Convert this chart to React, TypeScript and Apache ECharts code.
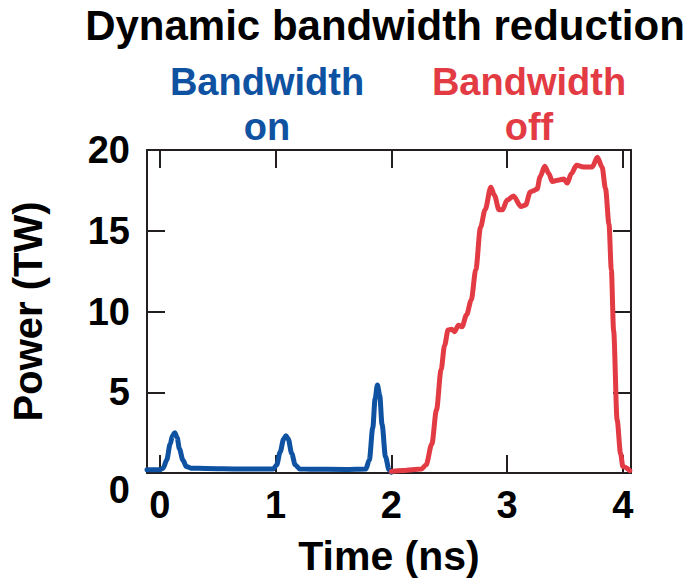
import React, { useEffect, useRef } from "react";
import * as echarts from "echarts";

const titleText = "Dynamic bandwidth reduction";
const xTicks = [0, 1, 2, 3, 4];
const yTicks = [0, 5, 10, 15, 20];

const blueT = [-0.11, 0.0, 0.03, 0.06, 0.09, 0.11, 0.13, 0.15, 0.17, 0.2, 0.23, 0.27, 0.4, 0.7, 0.98, 1.01, 1.04, 1.07, 1.09, 1.11, 1.14, 1.17, 1.21, 1.3, 1.6, 1.78, 1.81, 1.84, 1.86, 1.88, 1.9, 1.92, 1.95, 1.98, 2.0];
const blueP = [0.2, 0.2, 0.3, 0.8, 1.8, 2.3, 2.5, 2.2, 1.5, 0.8, 0.4, 0.3, 0.28, 0.25, 0.25, 0.5, 1.3, 2.1, 2.3, 2.1, 1.2, 0.5, 0.25, 0.23, 0.22, 0.25, 0.8, 2.8, 4.6, 5.45, 4.8, 3.0, 1.0, 0.2, 0.05];

const redT = [2.0, 2.1, 2.26, 2.3, 2.35, 2.39, 2.43, 2.46, 2.49, 2.52, 2.545, 2.58, 2.61, 2.65, 2.69, 2.73, 2.77, 2.81, 2.86, 2.89, 2.93, 2.96, 3.0, 3.055, 3.12, 3.16, 3.2, 3.235, 3.26, 3.285, 3.325, 3.36, 3.39, 3.45, 3.49, 3.52, 3.555, 3.6, 3.66, 3.735, 3.78, 3.82, 3.85, 3.88, 3.9, 3.92, 3.95, 3.98, 4.0, 4.06];
const redP = [0.1, 0.15, 0.25, 0.5, 1.8, 3.9, 6.4, 7.9, 8.85, 8.9, 8.75, 9.15, 9.05, 9.8, 10.7, 12.6, 15.2, 16.3, 17.7, 17.2, 16.3, 16.3, 16.9, 17.15, 16.5, 16.6, 17.4, 17.5, 17.6, 18.35, 19.0, 18.55, 18.05, 18.15, 18.2, 17.95, 18.55, 19.05, 18.95, 18.95, 19.55, 18.95, 17.6, 15.4, 12.6, 8.8, 3.3, 1.2, 0.4, 0.15];

const BLUE = "#0e52a1";
const RED = "#e33b44";
const AXIS = "#231f20";
const FONT = "'Liberation Sans', Arial, Helvetica, sans-serif";

export default function App() {
  const ref = useRef<HTMLDivElement>(null);
  useEffect(() => {
    if (!ref.current) return;
    const chart = echarts.init(ref.current, null, { renderer: "svg" });
    const axisLine = { show: true, onZero: false, lineStyle: { color: AXIS, width: 2 } };
    const tick = { show: true, inside: true, length: 18, lineStyle: { color: AXIS, width: 2 } };
    const lbl = { fontFamily: FONT, fontWeight: "bold", fontSize: 38, color: "#000" };
    const option = {
      animation: false,
      grid: { left: 145, right: 65, top: 150, bottom: 109 },
      xAxis: [
        {
          type: "value", position: "bottom", min: -0.11, max: 4.07, minInterval: 1, maxInterval: 1,
          axisLine, axisTick: tick, splitLine: { show: false },
          axisLabel: { ...lbl, margin: 13, formatter: (v: number) => (xTicks.includes(v) ? String(v) : "") },
          name: "Time (ns)", nameLocation: "middle", nameGap: 62,
          nameTextStyle: { fontFamily: FONT, fontWeight: "bold", fontSize: 41, color: "#000" },
        },
        {
          type: "value", position: "top", min: -0.11, max: 4.07, minInterval: 1, maxInterval: 1,
          axisLine, axisTick: tick, splitLine: { show: false }, axisLabel: { show: false },
        },
      ],
      yAxis: [
        {
          type: "value", position: "left", min: 0, max: 20, interval: 5,
          axisLine, axisTick: tick, splitLine: { show: false },
          axisLabel: {
            ...lbl, margin: 17,
            formatter: (v: number) => (v === yTicks[0] ? "{z|" + v + "}" : String(v)),
            rich: { z: { ...lbl, padding: [34, 0, 0, 0] } },
          },
          name: "Power (TW)", nameLocation: "middle", nameGap: 99,
          nameTextStyle: { fontFamily: FONT, fontWeight: "bold", fontSize: 40, color: "#000" },
        },
        {
          type: "value", position: "right", min: 0, max: 20, interval: 5,
          axisLine, axisTick: tick, splitLine: { show: false }, axisLabel: { show: false },
        },
      ],
      graphic: [
        { type: "text", x: 385, y: 25, style: { text: titleText, align: "center", verticalAlign: "middle", fontFamily: FONT, fontWeight: "bold", fontSize: 42, fill: "#000" } },
        { type: "text", x: 267, y: 82, style: { text: "Bandwidth", align: "center", verticalAlign: "middle", fontFamily: FONT, fontWeight: "bold", fontSize: 38, fill: BLUE } },
        { type: "text", x: 267, y: 127, style: { text: "on", align: "center", verticalAlign: "middle", fontFamily: FONT, fontWeight: "bold", fontSize: 38, fill: BLUE } },
        { type: "text", x: 529, y: 82, style: { text: "Bandwidth", align: "center", verticalAlign: "middle", fontFamily: FONT, fontWeight: "bold", fontSize: 38, fill: RED } },
        { type: "text", x: 529, y: 127, style: { text: "off", align: "center", verticalAlign: "middle", fontFamily: FONT, fontWeight: "bold", fontSize: 38, fill: RED } },
      ],
      series: [
        {
          type: "line", name: "Bandwidth on", xAxisIndex: 0, yAxisIndex: 0,
          data: blueT.map((t, i) => [t, blueP[i]]),
          smooth: 0.3, smoothMonotone: "x", showSymbol: false, clip: true,
          lineStyle: { color: BLUE, width: 5, cap: "round", join: "round" },
        },
        {
          type: "line", name: "Bandwidth off", xAxisIndex: 0, yAxisIndex: 0,
          data: redT.map((t, i) => [t, redP[i]]),
          smooth: 0.3, smoothMonotone: "x", showSymbol: false, clip: true,
          lineStyle: { color: RED, width: 5, cap: "round", join: "round" },
        },
      ],
    };
    chart.setOption(option as any);
    return () => chart.dispose();
  }, []);
  return <div ref={ref} style={{ position: "absolute", left: 0, top: 0, width: 696, height: 582 }} />;
}
